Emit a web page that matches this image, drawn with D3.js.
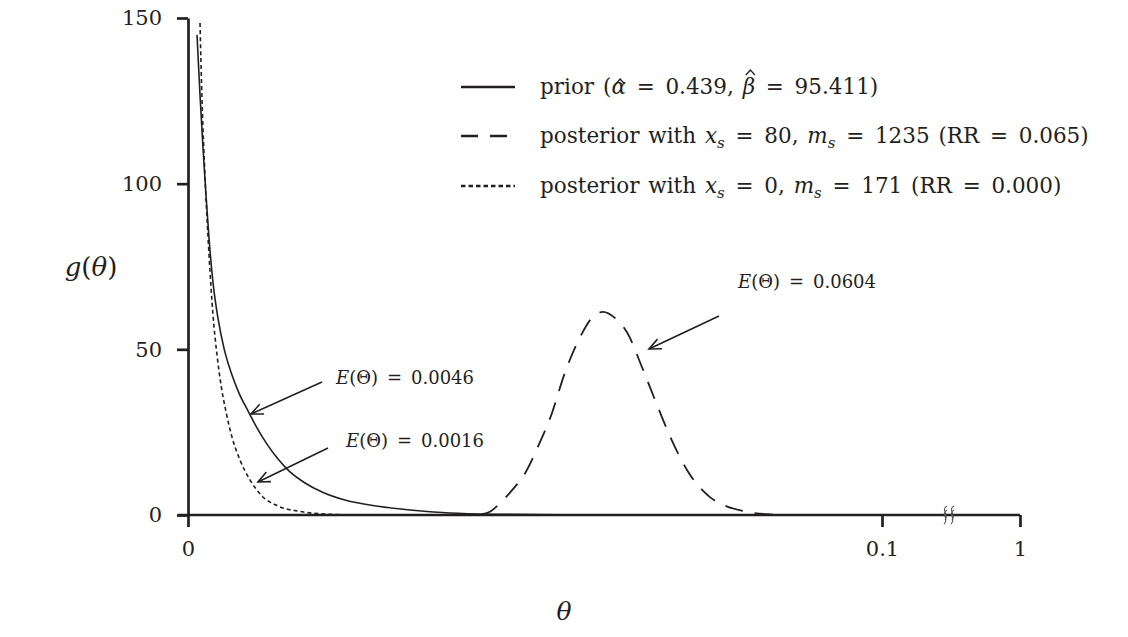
<!DOCTYPE html>
<html>
<head>
<meta charset="utf-8">
<script src="https://cdn.jsdelivr.net/npm/d3@7"></script>
<style>
  html, body { margin: 0; padding: 0; background: #fff; }
  svg text { font-family: "DejaVu Serif", serif; fill: #231f20; }
</style>
</head>
<body>
<svg id="chart" width="1128" height="637"></svg>
<script>
// ---- data ----
const xTickValues = [0, 0.1, 1];
const xTickLabels = ["0", "0.1", "1"];
const yTickValues = [0, 50, 100, 150];
const yTickLabels = ["0", "50", "100", "150"];

// prior (alpha = 0.439, beta = 95.411)
const priorTheta = [0.00130, 0.00173, 0.00216, 0.00259, 0.00303, 0.00360, 0.00432, 0.00519, 0.00620, 0.00735, 0.00865, 0.00994, 0.01138, 0.01297, 0.01470, 0.01686, 0.01931, 0.02262, 0.02767, 0.03199, 0.03775, 0.04496, 0.0536, 0.0700, 0.1000];
const priorG     = [144.9,   126.8,   110.8,   96.6,    83.5,    70.2,    59.4,    50.3,    43.1,    36.8,    31.4,    26.3,    21.4,    16.9,    13.0,    9.66,    6.94,    4.50,    2.57,    1.51,    0.60,    0.21,    0.06,   0.02,   0.0];

// posterior x_s = 80, m_s = 1235
const post1Theta = [0.0380, 0.0421, 0.0435, 0.0450, 0.0467, 0.0486, 0.0504, 0.0524, 0.0543, 0.0565, 0.0582, 0.0598, 0.0615, 0.0633, 0.0654, 0.0673, 0.0697, 0.0719, 0.0752, 0.0774, 0.0800, 0.0839, 0.0882, 0.1000];
const post1G     = [0.0,    0.2,    1.0,    3.6,    7.5,    12.7,   20.5,   30.5,   42.9,   53.7,   59.5,   61.3,   59.5,   55.0,   44.7,   34.7,   22.6,   13.6,   5.4,    2.8,    1.2,    0.2,    0.0,    0.0];

// posterior x_s = 0, m_s = 171
const post2Theta = [0.00173, 0.00202, 0.00245, 0.00303, 0.00360, 0.00418, 0.00476, 0.00548, 0.00634, 0.00749, 0.00893, 0.01066, 0.01297, 0.01614, 0.02046, 0.02478, 0.0400];
const post2G     = [148.5,   125.3,   102.1,   78.5,    60.4,    48.3,    39.2,    31.1,    23.5,    16.6,    10.6,    5.73,    2.72,    1.06,    0.21,    0.0,     0.0];

// ---- drawing ----
const svg = d3.select("#chart");
const ink = "#231f20";

const x = d3.scaleLinear().domain([0, 0.1, 1]).range([188, 882, 1020]);
const y = d3.scaleLinear().domain([0, 150]).range([515, 18]);

const line = d3.line().x(d => x(d[0])).y(d => y(d[1])).curve(d3.curveMonotoneX);
const zip = (a, b) => a.map((v, i) => [v, b[i]]);

// curves
svg.append("path").datum(zip(priorTheta, priorG)).attr("d", line)
  .attr("fill", "none").attr("stroke", ink).attr("stroke-width", 1.6);
svg.append("path").datum(zip(post1Theta, post1G)).attr("d", line)
  .attr("fill", "none").attr("stroke", ink).attr("stroke-width", 1.8)
  .attr("stroke-dasharray", "18,12");
svg.append("path").datum(zip(post2Theta, post2G)).attr("d", line)
  .attr("fill", "none").attr("stroke", ink).attr("stroke-width", 1.6)
  .attr("stroke-dasharray", "4,3");

// axes
const xAxis = d3.axisBottom(x).tickValues(xTickValues)
  .tickFormat((d, i) => xTickLabels[i]).tickSize(12).tickSizeOuter(0).tickPadding(14);
const yAxis = d3.axisLeft(y).tickValues(yTickValues)
  .tickFormat((d, i) => yTickLabels[i]).tickSize(11).tickSizeOuter(0).tickPadding(15);

const gx = svg.append("g").attr("transform", "translate(0,515)").call(xAxis);
const gy = svg.append("g").attr("transform", "translate(188,0)").call(yAxis);
[gx, gy].forEach(g => {
  g.select(".domain").attr("stroke", ink).attr("stroke-width", 2.7);
  g.selectAll(".tick line").attr("stroke", ink).attr("stroke-width", 2.7);
  g.selectAll(".tick text").attr("fill", ink).style("font-size", "21px")
    .style("font-family", "'DejaVu Serif', serif");
});
gx.select(".domain").attr("d", `M${x(0) - 10},0H${x(1)}`);

// axis break marks
const brk = d3.path();
[945, 952].forEach(cx => {
  brk.moveTo(cx + 2, 506);
  brk.bezierCurveTo(cx - 5, 510, cx + 5, 515, cx, 520);
  brk.moveTo(cx + 2, 510);
  brk.bezierCurveTo(cx - 5, 514, cx + 5, 519, cx - 1, 524);
});
svg.append("path").attr("d", brk.toString()).attr("fill", "none")
  .attr("stroke", "#555").attr("stroke-width", 1.1);

// axis titles
svg.append("text").attr("x", 91).attr("y", 276).attr("text-anchor", "middle")
  .style("font-size", "26px")
  .html('<tspan font-style="italic">g</tspan>(<tspan font-style="italic">θ</tspan>)');
svg.append("text").attr("x", 564).attr("y", 620).attr("text-anchor", "middle")
  .style("font-size", "25px").style("font-style", "italic").text("θ");

// legend
const EQ = "\u2002=\u2002";
const sub = s => `<tspan font-style="italic" font-size="15" dy="5">${s}</tspan>`;
const legendRows = [
  { y: 87, dash: null, x2: 515, html: `prior (<tspan font-style="italic">α</tspan>${EQ}0.439, <tspan font-style="italic">β</tspan>${EQ}95.411)` },
  { y: 136, dash: "17,12", x2: 507, html: `posterior with <tspan font-style="italic">x</tspan>${sub("s")}<tspan dy="-5">${EQ}80, </tspan><tspan font-style="italic">m</tspan>${sub("s")}<tspan dy="-5">${EQ}1235 (RR${EQ}0.065)</tspan>` },
  { y: 186, dash: "4.5,3", x2: 515, html: `posterior with <tspan font-style="italic">x</tspan>${sub("s")}<tspan dy="-5">${EQ}0, </tspan><tspan font-style="italic">m</tspan>${sub("s")}<tspan dy="-5">${EQ}171 (RR${EQ}0.000)</tspan>` }
];
legendRows.forEach((r, i) => {
  const l = svg.append("line").attr("x1", 461).attr("x2", r.x2).attr("y1", r.y).attr("y2", r.y)
    .attr("stroke", ink).attr("stroke-width", 2.6);
  if (r.dash) l.attr("stroke-dasharray", r.dash);
  const t = svg.append("text").attr("x", 540).attr("y", r.y + 7)
    .style("font-size", "21.5px").style("word-spacing", "2px").html(r.html);
  if (i === 0) {
    // hats over alpha and beta
    const node = t.node();
    const str = node.textContent;
    [["α", 7], ["β", 16]].forEach(([ch, lift]) => {
      const k = str.indexOf(ch);
      const s = node.getStartPositionOfChar(k), e = node.getEndPositionOfChar(k);
      const cx = (s.x + e.x) / 2 + 1.5, top = r.y + 7 - lift - 8;
      svg.append("path")
        .attr("d", `M${cx - 4.5},${top + 5}L${cx},${top}L${cx + 4.5},${top + 5}`)
        .attr("fill", "none").attr("stroke", ink).attr("stroke-width", 1.3);
    });
  }
});

// annotations with arrows
const notes = [
  { text: "0.0604", tx: 738, ty: 288, x1: 719, y1: 316, x2: 649, y2: 349 },
  { text: "0.0046", tx: 336, ty: 384, x1: 322, y1: 382, x2: 251, y2: 414 },
  { text: "0.0016", tx: 346, ty: 447, x1: 328, y1: 448, x2: 258, y2: 482 }
];
notes.forEach(n => {
  svg.append("text").attr("x", n.tx).attr("y", n.ty).style("font-size", "18px")
    .html(`<tspan font-style="italic">E</tspan>(Θ)${EQ}${n.text}`);
  svg.append("line").attr("x1", n.x1).attr("y1", n.y1).attr("x2", n.x2).attr("y2", n.y2)
    .attr("stroke", ink).attr("stroke-width", 1.6);
  const ang = Math.atan2(n.y1 - n.y2, n.x1 - n.x2);
  const hl = 13, spread = 0.42;
  const p = d3.path();
  p.moveTo(n.x2 + hl * Math.cos(ang + spread), n.y2 + hl * Math.sin(ang + spread));
  p.lineTo(n.x2, n.y2);
  p.lineTo(n.x2 + hl * Math.cos(ang - spread), n.y2 + hl * Math.sin(ang - spread));
  svg.append("path").attr("d", p.toString()).attr("fill", "none")
    .attr("stroke", ink).attr("stroke-width", 1.6);
});
</script>
</body>
</html>
